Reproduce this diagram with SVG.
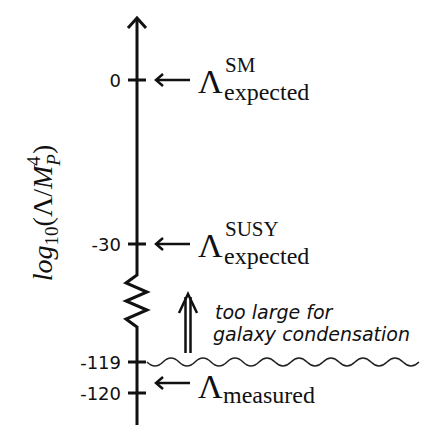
<svg xmlns="http://www.w3.org/2000/svg" width="432" height="435" viewBox="0 0 432 435">
<style>
.ax{fill:none;stroke:#111;stroke-width:3;stroke-linecap:butt;stroke-linejoin:miter}
.ar{fill:none;stroke:#111;stroke-width:2.5}
.wv{fill:none;stroke:#222;stroke-width:1.6}
.tl{font-family:"DejaVu Sans",sans-serif;font-size:18px;fill:#111;text-anchor:end}
.lam{font-family:"Liberation Serif",serif;fill:#111}
.big{font-size:34px}
.sup{font-size:21px}
.sub{font-size:24px}
.note{font-family:"DejaVu Sans",sans-serif;font-style:italic;font-size:19px;fill:#111}
</style>
<rect width="432" height="435" fill="#fff"/>
<g id="connectors">
<g id="axis">
<polyline class="ax" points="137,20 137,275 126,283 147,292 126,301 147,310 126,319 137,327 137,332 137,425"/>
<polyline class="ax" points="128,28 137,18 146,28"/>
</g>
<g id="ticks">
<line class="ax" x1="128" y1="80" x2="146" y2="80"/>
<line class="ax" x1="128" y1="244" x2="146" y2="244"/>
<line class="ax" x1="128" y1="362" x2="146" y2="362"/>
<line class="ax" x1="128" y1="393" x2="146" y2="393"/>
</g>
<g id="arrows">
<line class="ar" x1="156" y1="80" x2="190" y2="80"/>
<polyline class="ar" points="163,74 156,80 163,86"/>
<line class="ar" x1="156" y1="244" x2="190" y2="244"/>
<polyline class="ar" points="163,238 156,244 163,250"/>
<line class="ar" x1="156" y1="383" x2="190" y2="383"/>
<polyline class="ar" points="163,377 156,383 163,389"/>
<line class="ar" x1="185.5" y1="353" x2="185.5" y2="297"/>
<line class="ar" x1="190.5" y1="353" x2="190.5" y2="297"/>
<polyline class="ar" points="179,313 188,294 197,313"/>
</g>
<path id="limit" class="wv" d="M147,362 q8,8 16,0 t16,0 t16,0 t16,0 t16,0 t16,0 t16,0 t16,0 t16,0 t16,0 t16,0 t16,0 t16,0 t16,0 t16,0 t16,0 t16,0"/>
</g>
<g id="tick-labels">
<text class="tl" x="121" y="86.5">0</text>
<text class="tl" x="121" y="250.5">-30</text>
<text class="tl" x="121" y="368.5">-119</text>
<text class="tl" x="121" y="399.5">-120</text>
</g>
<g id="label-sm">
<text class="lam big" x="198" y="93">Λ</text>
<text class="lam sup" x="225" y="72">SM</text>
<text class="lam sub" x="224" y="100">expected</text>
</g>
<g id="label-susy">
<text class="lam big" x="198" y="257">Λ</text>
<text class="lam sup" x="225" y="236">SUSY</text>
<text class="lam sub" x="224" y="264">expected</text>
</g>
<g id="label-measured">
<text class="lam big" x="198" y="398">Λ</text>
<text class="lam sub" x="223" y="403">measured</text>
</g>
<g id="note">
<text class="note" x="215" y="319">too large for</text>
<text class="note" x="213" y="341">galaxy condensation</text>
</g>
<g id="y-label">
<text class="lam" transform="translate(52,213) rotate(-90)" text-anchor="middle" font-size="28" font-style="italic">log<tspan font-size="19" font-style="normal" dy="6">10</tspan><tspan dy="-6" font-style="normal">(Λ/</tspan>M<tspan font-size="19" font-style="normal" dy="-12">4</tspan><tspan font-size="19" dx="-9.5" dy="20">P</tspan><tspan font-style="normal" dy="-8">)</tspan></text>
</g>
</svg>
